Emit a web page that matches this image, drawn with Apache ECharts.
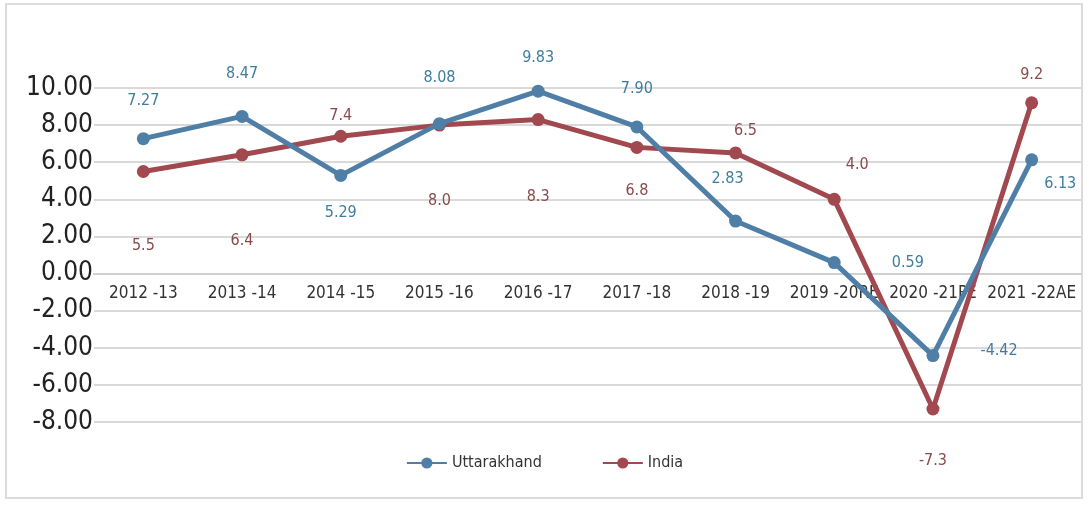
<!DOCTYPE html>
<html><head><meta charset="utf-8">
<script src="https://cdn.jsdelivr.net/npm/echarts@6/dist/echarts.min.js"></script>
<style>html,body{margin:0;padding:0;background:#fff}#c{width:1089px;height:506px}</style>
</head><body><div id="c"></div>
<script>
const categories = ["2012 -13","2013 -14","2014 -15","2015 -16","2016 -17","2017 -18","2018 -19","2019 -20RE","2020 -21PE","2021 -22AE"];
const uttarakhand = [7.27, 8.47, 5.29, 8.08, 9.83, 7.90, 2.83, 0.59, -4.42, 6.13];
const india = [5.5, 6.4, 7.4, 8.0, 8.3, 6.8, 6.5, 4.0, -7.3, 9.2];
const uttLabelPos = ["top","top","bottom","top","top","top","top","right","right","right"];
const indLabelPos = ["bottom","bottom","top","bottom","bottom","bottom","top","right","bottom","top"];
const uttDecimals = 2, indDecimals = 1;

const FONT = "'Liberation Sans Narrow','DejaVu Sans Condensed','Roboto Condensed',sans-serif";
const BLUE = '#4f7fa6', RED = '#a2484f';

function mk(vals, pos, dec, labelColor, offsets) {
  return vals.map((v, i) => ({
    value: v,
    label: { position: pos[i], formatter: v.toFixed(dec), offset: offsets[i] || [0,0], color: labelColor }
  }));
}
const uttOff = [[0,-18],[0,-23],[0,18],[0,-26],[0,-14],[0,-19],[-8,-23],[46,0],[36,-5],[1,24]];
const indOff = [[0,55],[0,67],[0,-1],[0,56],[0,58],[0,24],[10,-3],[0,-34],[0,32],[0,-9]];

const chart = echarts.init(document.getElementById('c'));
const option = {
  animation: false,
  graphic: [{ type: 'rect', shape: { x: 6, y: 4, width: 1076, height: 494 }, style: { fill: 'none', stroke: '#dcdcdc', lineWidth: 2 } }],
  grid: { left: 94, right: 8, top: 88, bottom: 84 },
  legend: {
    bottom: 30, left: 'center', itemGap: 60, itemWidth: 40, itemHeight: 14,
    textStyle: { fontFamily: FONT, fontSize: 16, color: '#333' },
    data: ['Uttarakhand', 'India']
  },
  xAxis: {
    type: 'category', data: categories, boundaryGap: true,
    axisLine: { onZero: true, lineStyle: { color: '#d0d0d0', width: 2 } },
    axisTick: { show: false },
    axisLabel: { fontFamily: FONT, fontSize: 17, color: '#333', margin: 12, interval: 0 }
  },
  yAxis: {
    type: 'value', min: -8, max: 10, interval: 2,
    axisLine: { show: false }, axisTick: { show: false },
    axisLabel: { fontFamily: FONT, fontSize: 26, color: '#222', margin: 1, formatter: v => v.toFixed(2) },
    splitLine: { lineStyle: { color: '#d9d9d9', width: 2 } }
  },
  series: [
    {
      name: 'Uttarakhand', type: 'line', data: mk(uttarakhand, uttLabelPos, uttDecimals, '#3f7d9e', uttOff),
      symbol: 'circle', symbolSize: 13, lineStyle: { color: BLUE, width: 5 }, itemStyle: { color: BLUE },
      label: { show: true, fontFamily: FONT, fontSize: 16 }, z: 3
    },
    {
      name: 'India', type: 'line', data: mk(india, indLabelPos, indDecimals, '#8a4a4c', indOff),
      symbol: 'circle', symbolSize: 13, lineStyle: { color: RED, width: 5 }, itemStyle: { color: RED },
      label: { show: true, fontFamily: FONT, fontSize: 16 }, z: 2
    }
  ]
};
chart.setOption(option);
// place the category axis on the zero line of the value axis
const zeroY = chart.convertToPixel({ yAxisIndex: 0 }, 0);
const bottomY = chart.convertToPixel({ yAxisIndex: 0 }, -8);
if (Math.abs(zeroY - bottomY) > 1) {
  chart.setOption({ xAxis: { axisLine: { onZero: false }, offset: -(bottomY - zeroY) } });
}
</script></body></html>
